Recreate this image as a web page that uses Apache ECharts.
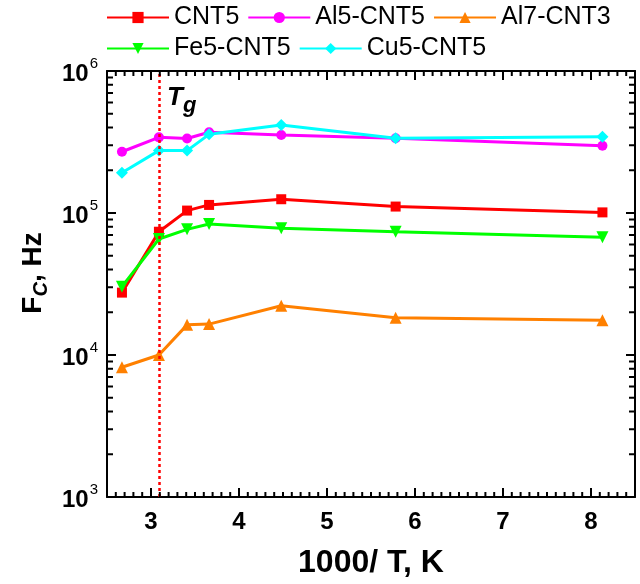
<!DOCTYPE html>
<html>
<head>
<meta charset="utf-8">
<script src="https://cdn.jsdelivr.net/npm/echarts@6/dist/echarts.min.js"></script>
<style>
  html, body { margin: 0; padding: 0; background: #fff; }
  #chart { width: 640px; height: 584px; }
</style>
</head>
<body>
<div id="chart"></div>
<script>
// 1000/T values (x) shared by all samples
const invT = [2.67, 3.09, 3.41, 3.66, 4.48, 5.78, 8.13];
const cnt5 = [27500, 73800, 104000, 114000, 125000, 111000, 101000];
const al5Cnt5 = [270000, 341000, 335000, 370000, 354000, 336000, 298000];
const al7Cnt3 = [8200, 10000, 16300, 16500, 22200, 18300, 17600];
const fe5Cnt5 = [30300, 65600, 76700, 83700, 78000, 73800, 67500];
const cu5Cnt5 = [192000, 275000, 275000, 358000, 417000, 336000, 344000];
const tgX = 3.09;
const xMajorTicks = [3, 4, 5, 6, 7, 8];

const X_MIN = 2.5, X_MAX = 8.5, Y_MIN = 1e3, Y_MAX = 1e6;
const font = 'Liberation Sans, Arial, sans-serif';

// minor ticks: every 0.1 on x, 2..9 in each decade on y
const xMinorTicks = [];
for (let i = 26; i < 85; i++) {
  if (i % 10 !== 0) xMinorTicks.push(i / 10);
}
const yMinorTicks = [];
[1e3, 1e4, 1e5].forEach((d) => {
  for (let k = 2; k <= 9; k++) yMinorTicks.push(k * d);
});

const pairs = (ys) => invT.map((x, i) => [x, ys[i]]);
const downTri = 'path://M0,0 L10,0 L5,9 Z';

let dom = document.getElementById('chart');
let myChart = echarts.init(dom, null, { renderer: 'canvas' });

const mkLine = (name, data, color, symbol, size) => ({
  name: name,
  type: 'line',
  data: pairs(data),
  symbol: symbol,
  symbolSize: size,
  showAllSymbol: true,
  lineStyle: { color: color, width: 3 },
  itemStyle: { color: color },
  z: 3,
});

const majorTick = { show: true, inside: true, length: 9, lineStyle: { color: '#000', width: 2 } };

let option = {
  animation: false,
  backgroundColor: '#fff',
  textStyle: { fontFamily: font },
  grid: { left: 107, right: 5, top: 71, bottom: 87 },
  legend: [
    {
      data: ['CNT5', 'Al5-CNT5', 'Al7-CNT3'],
      left: 106, top: 5, padding: 0,
      itemWidth: 62, itemHeight: 14, itemGap: 8,
      textStyle: { fontSize: 25, color: '#000', fontFamily: font },
    },
    {
      data: ['Fe5-CNT5', 'Cu5-CNT5'],
      left: 106, top: 36, padding: 0,
      itemWidth: 62, itemHeight: 14, itemGap: 8,
      textStyle: { fontSize: 25, color: '#000', fontFamily: font },
    },
  ],
  xAxis: [
    {
      type: 'value', min: X_MIN, max: X_MAX, splitNumber: 6, position: 'bottom',
      splitLine: { show: false },
      name: '1000/ T, K',
      nameLocation: 'middle',
      nameGap: 50,
      nameTextStyle: { fontSize: 32, fontWeight: 'bold', color: '#000', fontFamily: font },
      axisLine: { lineStyle: { color: '#000', width: 2 } },
      axisTick: majorTick,
      axisLabel: {
        margin: 13, fontSize: 24, fontWeight: 'bold', color: '#000', fontFamily: font,
        formatter: (v) => (xMajorTicks.indexOf(Math.round(v * 10) / 10) >= 0 ? String(Math.round(v)) : ''),
      },
    },
    {
      type: 'value', min: X_MIN, max: X_MAX, splitNumber: 6, position: 'top',
      splitLine: { show: false },
      axisLine: { lineStyle: { color: '#000', width: 2 } },
      axisTick: majorTick,
      axisLabel: { show: false },
    },
  ],
  yAxis: [
    {
      type: 'log', logBase: 10, min: Y_MIN, max: Y_MAX, position: 'left',
      splitLine: { show: false },
      name: '{f|F}{c|C}{f|, Hz}',
      nameLocation: 'middle',
      nameGap: 60,
      nameTextStyle: {
        padding: [0, 0, 0, 22],
        rich: {
          f: { fontSize: 28, fontWeight: 'bold', color: '#000', fontFamily: font, lineHeight: 34, verticalAlign: 'bottom' },
          c: { fontSize: 20, fontWeight: 'bold', fontStyle: 'italic', color: '#000', fontFamily: font, lineHeight: 34, verticalAlign: 'bottom', padding: [0, 0, -4, 0] },
        },
      },
      axisLine: { lineStyle: { color: '#000', width: 2 } },
      axisTick: majorTick,
      axisLabel: {
        margin: 9,
        formatter: (v) => '{b|10}{s|' + Math.round(Math.log10(v)) + '}',
        rich: {
          b: { fontSize: 24, fontWeight: 'bold', color: '#000', fontFamily: font, lineHeight: 30, verticalAlign: 'bottom' },
          s: { fontSize: 15, color: '#000', fontFamily: font, lineHeight: 30, verticalAlign: 'top', padding: [0, 0, 10, 1] },
        },
      },
    },
    {
      type: 'log', logBase: 10, min: Y_MIN, max: Y_MAX, position: 'right',
      splitLine: { show: false },
      axisLine: { lineStyle: { color: '#000', width: 2 } },
      axisTick: majorTick,
      axisLabel: { show: false },
    },
  ],
  series: [
    Object.assign(mkLine('CNT5', cnt5, '#ff0000', 'rect', 10), {
      markLine: {
        silent: true,
        symbol: 'none',
        label: { show: false },
        lineStyle: { color: '#ff0000', width: 2.5, type: [3, 3] },
        data: [{ xAxis: tgX }],
      },
    }),
    mkLine('Al5-CNT5', al5Cnt5, '#ff00ff', 'circle', 10),
    mkLine('Al7-CNT3', al7Cnt3, '#ff8000', 'triangle', 12),
    mkLine('Fe5-CNT5', fe5Cnt5, '#00ff00', downTri, 12),
    mkLine('Cu5-CNT5', cu5Cnt5, '#00ffff', 'diamond', 12),
  ],
};

if (option && typeof option === 'object') {
  myChart.setOption(option);
}

// minor ticks on all four sides, placed through the chart's own axes
const toPx = (x, y) => myChart.convertToPixel({ xAxisIndex: 0, yAxisIndex: 0 }, [x, y]);
const tickLine = (x1, y1, x2, y2) => ({
  type: 'line', silent: true, z: 10,
  shape: { x1: x1, y1: y1, x2: x2, y2: y2 },
  style: { stroke: '#000', lineWidth: 2 },
});
let marks = [];
xMinorTicks.forEach((v) => {
  const b = toPx(v, Y_MIN);
  const t = toPx(v, Y_MAX);
  marks.push(tickLine(b[0], b[1], b[0], b[1] - 5));
  marks.push(tickLine(t[0], t[1], t[0], t[1] + 5));
});
yMinorTicks.forEach((v) => {
  const l = toPx(X_MIN, v);
  const r = toPx(X_MAX, v);
  marks.push(tickLine(l[0], l[1], l[0] + 6, l[1]));
  marks.push(tickLine(r[0], r[1], r[0] - 6, r[1]));
});
marks.push({
  type: 'text',
  left: 167, top: 85, z: 10,
  style: {
    text: '{t|T}{g|g}',
    rich: {
      t: { fontSize: 26, fontWeight: 'bold', fontStyle: 'italic', fill: '#000', fontFamily: font, lineHeight: 30, verticalAlign: 'bottom' },
      g: { fontSize: 22, fontWeight: 'bold', fontStyle: 'italic', fill: '#000', fontFamily: font, lineHeight: 30, verticalAlign: 'bottom', padding: [0, 0, -6, 0] },
    },
  },
});
myChart.setOption({ graphic: marks });

window.addEventListener('resize', myChart.resize);
</script>
</body>
</html>
